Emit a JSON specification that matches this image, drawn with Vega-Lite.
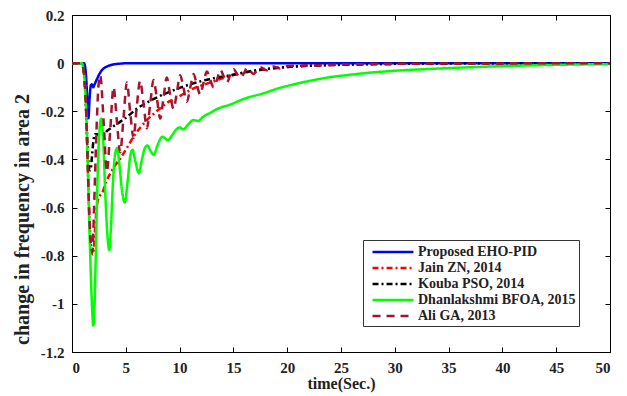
{
  "$schema": "https://vega.github.io/schema/vega-lite/v6.json",
  "width": 538,
  "height": 337,
  "autosize": "none",
  "padding": {"left": 72, "top": 15, "right": 17, "bottom": 44},
  "background": "white",
  "config": {
    "view": {"stroke": null},
    "axis": {"grid": false, "domainColor": "black", "tickColor": "black", "labelColor": "#222", "titleColor": "#222", "labelFont": "Liberation Serif", "titleFont": "Liberation Serif", "labelFontWeight": "bold", "titleFontWeight": "bold", "labelFontSize": 15, "titleFontSize": 16}
  },
  "data": {"values": [
    {"s":"Proposed EHO-PID","t":0,"v":0},{"s":"Proposed EHO-PID","t":1.1,"v":0},{"s":"Proposed EHO-PID","t":1.2,"v":-0.01},{"s":"Proposed EHO-PID","t":1.33,"v":-0.07},{"s":"Proposed EHO-PID","t":1.45,"v":-0.18},{"s":"Proposed EHO-PID","t":1.53,"v":-0.229},{"s":"Proposed EHO-PID","t":1.63,"v":-0.15},{"s":"Proposed EHO-PID","t":1.75,"v":-0.092},{"s":"Proposed EHO-PID","t":1.85,"v":-0.088},{"s":"Proposed EHO-PID","t":1.97,"v":-0.1},{"s":"Proposed EHO-PID","t":2.1,"v":-0.088},{"s":"Proposed EHO-PID","t":2.3,"v":-0.068},{"s":"Proposed EHO-PID","t":2.55,"v":-0.045},{"s":"Proposed EHO-PID","t":2.8,"v":-0.028},{"s":"Proposed EHO-PID","t":3.2,"v":-0.015},{"s":"Proposed EHO-PID","t":3.7,"v":-0.007},{"s":"Proposed EHO-PID","t":4.5,"v":-0.002},{"s":"Proposed EHO-PID","t":5.5,"v":0},{"s":"Proposed EHO-PID","t":50,"v":0},

    {"s":"Jain ZN, 2014","t":0,"v":0},{"s":"Jain ZN, 2014","t":0.9,"v":0},{"s":"Jain ZN, 2014","t":1.0,"v":-0.01},{"s":"Jain ZN, 2014","t":1.15,"v":-0.06},{"s":"Jain ZN, 2014","t":1.3,"v":-0.18},{"s":"Jain ZN, 2014","t":1.45,"v":-0.4},{"s":"Jain ZN, 2014","t":1.6,"v":-0.62},{"s":"Jain ZN, 2014","t":1.75,"v":-0.75},{"s":"Jain ZN, 2014","t":1.87,"v":-0.79},{"s":"Jain ZN, 2014","t":1.95,"v":-0.795},{"s":"Jain ZN, 2014","t":2.05,"v":-0.76},{"s":"Jain ZN, 2014","t":2.2,"v":-0.65},{"s":"Jain ZN, 2014","t":2.4,"v":-0.57},{"s":"Jain ZN, 2014","t":2.6,"v":-0.55},{"s":"Jain ZN, 2014","t":2.8,"v":-0.54},{"s":"Jain ZN, 2014","t":3.2,"v":-0.49},{"s":"Jain ZN, 2014","t":3.6,"v":-0.455},{"s":"Jain ZN, 2014","t":4.0,"v":-0.425},{"s":"Jain ZN, 2014","t":4.5,"v":-0.395},{"s":"Jain ZN, 2014","t":5.2,"v":-0.345},{"s":"Jain ZN, 2014","t":5.8,"v":-0.3},{"s":"Jain ZN, 2014","t":6.4,"v":-0.265},{"s":"Jain ZN, 2014","t":7.0,"v":-0.235},{"s":"Jain ZN, 2014","t":7.6,"v":-0.21},{"s":"Jain ZN, 2014","t":8.2,"v":-0.187},{"s":"Jain ZN, 2014","t":9.0,"v":-0.16},{"s":"Jain ZN, 2014","t":9.5,"v":-0.15},{"s":"Jain ZN, 2014","t":10.4,"v":-0.127},{"s":"Jain ZN, 2014","t":11.3,"v":-0.105},{"s":"Jain ZN, 2014","t":12.2,"v":-0.09},{"s":"Jain ZN, 2014","t":13.2,"v":-0.075},{"s":"Jain ZN, 2014","t":14.3,"v":-0.058},{"s":"Jain ZN, 2014","t":15.4,"v":-0.045},{"s":"Jain ZN, 2014","t":17,"v":-0.032},{"s":"Jain ZN, 2014","t":19,"v":-0.02},{"s":"Jain ZN, 2014","t":21,"v":-0.013},{"s":"Jain ZN, 2014","t":23,"v":-0.009},{"s":"Jain ZN, 2014","t":26,"v":-0.005},{"s":"Jain ZN, 2014","t":30,"v":-0.003},{"s":"Jain ZN, 2014","t":35,"v":-0.001},{"s":"Jain ZN, 2014","t":50,"v":0},

    {"s":"Kouba PSO, 2014","t":0,"v":0},{"s":"Kouba PSO, 2014","t":0.9,"v":0},{"s":"Kouba PSO, 2014","t":1.0,"v":-0.01},{"s":"Kouba PSO, 2014","t":1.15,"v":-0.06},{"s":"Kouba PSO, 2014","t":1.3,"v":-0.18},{"s":"Kouba PSO, 2014","t":1.45,"v":-0.36},{"s":"Kouba PSO, 2014","t":1.6,"v":-0.44},{"s":"Kouba PSO, 2014","t":1.72,"v":-0.445},{"s":"Kouba PSO, 2014","t":1.85,"v":-0.39},{"s":"Kouba PSO, 2014","t":2.0,"v":-0.32},{"s":"Kouba PSO, 2014","t":2.15,"v":-0.295},{"s":"Kouba PSO, 2014","t":2.35,"v":-0.295},{"s":"Kouba PSO, 2014","t":2.6,"v":-0.305},{"s":"Kouba PSO, 2014","t":2.9,"v":-0.298},{"s":"Kouba PSO, 2014","t":3.3,"v":-0.28},{"s":"Kouba PSO, 2014","t":3.6,"v":-0.27},{"s":"Kouba PSO, 2014","t":4.5,"v":-0.243},{"s":"Kouba PSO, 2014","t":5.2,"v":-0.22},{"s":"Kouba PSO, 2014","t":6.0,"v":-0.19},{"s":"Kouba PSO, 2014","t":7.0,"v":-0.163},{"s":"Kouba PSO, 2014","t":8.0,"v":-0.14},{"s":"Kouba PSO, 2014","t":9.3,"v":-0.115},{"s":"Kouba PSO, 2014","t":10.5,"v":-0.095},{"s":"Kouba PSO, 2014","t":11.9,"v":-0.076},{"s":"Kouba PSO, 2014","t":13,"v":-0.064},{"s":"Kouba PSO, 2014","t":14.4,"v":-0.053},{"s":"Kouba PSO, 2014","t":15.6,"v":-0.042},{"s":"Kouba PSO, 2014","t":17,"v":-0.03},{"s":"Kouba PSO, 2014","t":18.5,"v":-0.022},{"s":"Kouba PSO, 2014","t":20,"v":-0.016},{"s":"Kouba PSO, 2014","t":22,"v":-0.011},{"s":"Kouba PSO, 2014","t":25,"v":-0.007},{"s":"Kouba PSO, 2014","t":30,"v":-0.003},{"s":"Kouba PSO, 2014","t":35,"v":-0.001},{"s":"Kouba PSO, 2014","t":50,"v":0},

    {"s":"Dhanlakshmi BFOA, 2015","t":0,"v":0},{"s":"Dhanlakshmi BFOA, 2015","t":0.9,"v":0},{"s":"Dhanlakshmi BFOA, 2015","t":1.0,"v":-0.01},{"s":"Dhanlakshmi BFOA, 2015","t":1.15,"v":-0.06},{"s":"Dhanlakshmi BFOA, 2015","t":1.3,"v":-0.18},{"s":"Dhanlakshmi BFOA, 2015","t":1.45,"v":-0.4},{"s":"Dhanlakshmi BFOA, 2015","t":1.6,"v":-0.66},{"s":"Dhanlakshmi BFOA, 2015","t":1.75,"v":-0.88},{"s":"Dhanlakshmi BFOA, 2015","t":1.87,"v":-1.02},{"s":"Dhanlakshmi BFOA, 2015","t":1.97,"v":-1.09},{"s":"Dhanlakshmi BFOA, 2015","t":2.07,"v":-1.04},{"s":"Dhanlakshmi BFOA, 2015","t":2.2,"v":-0.82},{"s":"Dhanlakshmi BFOA, 2015","t":2.35,"v":-0.52},{"s":"Dhanlakshmi BFOA, 2015","t":2.5,"v":-0.32},{"s":"Dhanlakshmi BFOA, 2015","t":2.71,"v":-0.23},{"s":"Dhanlakshmi BFOA, 2015","t":2.9,"v":-0.32},{"s":"Dhanlakshmi BFOA, 2015","t":3.1,"v":-0.55},{"s":"Dhanlakshmi BFOA, 2015","t":3.3,"v":-0.72},{"s":"Dhanlakshmi BFOA, 2015","t":3.46,"v":-0.776},{"s":"Dhanlakshmi BFOA, 2015","t":3.62,"v":-0.68},{"s":"Dhanlakshmi BFOA, 2015","t":3.8,"v":-0.5},{"s":"Dhanlakshmi BFOA, 2015","t":4.0,"v":-0.38},{"s":"Dhanlakshmi BFOA, 2015","t":4.2,"v":-0.353},{"s":"Dhanlakshmi BFOA, 2015","t":4.4,"v":-0.42},{"s":"Dhanlakshmi BFOA, 2015","t":4.65,"v":-0.53},{"s":"Dhanlakshmi BFOA, 2015","t":4.9,"v":-0.579},{"s":"Dhanlakshmi BFOA, 2015","t":5.15,"v":-0.5},{"s":"Dhanlakshmi BFOA, 2015","t":5.4,"v":-0.39},{"s":"Dhanlakshmi BFOA, 2015","t":5.62,"v":-0.36},{"s":"Dhanlakshmi BFOA, 2015","t":5.9,"v":-0.41},{"s":"Dhanlakshmi BFOA, 2015","t":6.21,"v":-0.457},{"s":"Dhanlakshmi BFOA, 2015","t":6.5,"v":-0.4},{"s":"Dhanlakshmi BFOA, 2015","t":6.8,"v":-0.35},{"s":"Dhanlakshmi BFOA, 2015","t":7.02,"v":-0.342},{"s":"Dhanlakshmi BFOA, 2015","t":7.3,"v":-0.365},{"s":"Dhanlakshmi BFOA, 2015","t":7.6,"v":-0.381},{"s":"Dhanlakshmi BFOA, 2015","t":7.95,"v":-0.34},{"s":"Dhanlakshmi BFOA, 2015","t":8.4,"v":-0.306},{"s":"Dhanlakshmi BFOA, 2015","t":8.9,"v":-0.32},{"s":"Dhanlakshmi BFOA, 2015","t":9.3,"v":-0.3},{"s":"Dhanlakshmi BFOA, 2015","t":9.7,"v":-0.275},{"s":"Dhanlakshmi BFOA, 2015","t":10.0,"v":-0.267},{"s":"Dhanlakshmi BFOA, 2015","t":10.35,"v":-0.275},{"s":"Dhanlakshmi BFOA, 2015","t":10.8,"v":-0.255},{"s":"Dhanlakshmi BFOA, 2015","t":11.3,"v":-0.236},{"s":"Dhanlakshmi BFOA, 2015","t":11.7,"v":-0.24},{"s":"Dhanlakshmi BFOA, 2015","t":12.2,"v":-0.222},{"s":"Dhanlakshmi BFOA, 2015","t":12.9,"v":-0.205},{"s":"Dhanlakshmi BFOA, 2015","t":13.5,"v":-0.19},{"s":"Dhanlakshmi BFOA, 2015","t":14.7,"v":-0.172},{"s":"Dhanlakshmi BFOA, 2015","t":16,"v":-0.148},{"s":"Dhanlakshmi BFOA, 2015","t":17.8,"v":-0.125},{"s":"Dhanlakshmi BFOA, 2015","t":19.3,"v":-0.103},{"s":"Dhanlakshmi BFOA, 2015","t":20.9,"v":-0.085},{"s":"Dhanlakshmi BFOA, 2015","t":22.5,"v":-0.07},{"s":"Dhanlakshmi BFOA, 2015","t":24,"v":-0.058},{"s":"Dhanlakshmi BFOA, 2015","t":25.5,"v":-0.05},{"s":"Dhanlakshmi BFOA, 2015","t":27.1,"v":-0.042},{"s":"Dhanlakshmi BFOA, 2015","t":30.2,"v":-0.031},{"s":"Dhanlakshmi BFOA, 2015","t":33.3,"v":-0.024},{"s":"Dhanlakshmi BFOA, 2015","t":37,"v":-0.017},{"s":"Dhanlakshmi BFOA, 2015","t":41.2,"v":-0.011},{"s":"Dhanlakshmi BFOA, 2015","t":45,"v":-0.007},{"s":"Dhanlakshmi BFOA, 2015","t":50,"v":-0.004},

    {"s":"Ali GA, 2013","t":0,"v":0},{"s":"Ali GA, 2013","t":0.9,"v":0},{"s":"Ali GA, 2013","t":1.0,"v":-0.01},{"s":"Ali GA, 2013","t":1.15,"v":-0.06},{"s":"Ali GA, 2013","t":1.3,"v":-0.18},{"s":"Ali GA, 2013","t":1.45,"v":-0.4},{"s":"Ali GA, 2013","t":1.6,"v":-0.62},{"s":"Ali GA, 2013","t":1.75,"v":-0.75},{"s":"Ali GA, 2013","t":1.9,"v":-0.785},{"s":"Ali GA, 2013","t":2.05,"v":-0.6},{"s":"Ali GA, 2013","t":2.3,"v":-0.25},{"s":"Ali GA, 2013","t":2.45,"v":-0.1},{"s":"Ali GA, 2013","t":2.62,"v":-0.05},{"s":"Ali GA, 2013","t":2.95,"v":-0.25},{"s":"Ali GA, 2013","t":3.24,"v":-0.45},{"s":"Ali GA, 2013","t":3.55,"v":-0.28},{"s":"Ali GA, 2013","t":3.86,"v":-0.1},{"s":"Ali GA, 2013","t":4.17,"v":-0.24},{"s":"Ali GA, 2013","t":4.48,"v":-0.37},{"s":"Ali GA, 2013","t":4.8,"v":-0.22},{"s":"Ali GA, 2013","t":5.1,"v":-0.08},{"s":"Ali GA, 2013","t":5.4,"v":-0.2},{"s":"Ali GA, 2013","t":5.72,"v":-0.31},{"s":"Ali GA, 2013","t":6.0,"v":-0.19},{"s":"Ali GA, 2013","t":6.33,"v":-0.074},{"s":"Ali GA, 2013","t":6.65,"v":-0.17},{"s":"Ali GA, 2013","t":6.96,"v":-0.27},{"s":"Ali GA, 2013","t":7.27,"v":-0.17},{"s":"Ali GA, 2013","t":7.57,"v":-0.07},{"s":"Ali GA, 2013","t":7.9,"v":-0.15},{"s":"Ali GA, 2013","t":8.2,"v":-0.23},{"s":"Ali GA, 2013","t":8.5,"v":-0.145},{"s":"Ali GA, 2013","t":8.81,"v":-0.06},{"s":"Ali GA, 2013","t":9.1,"v":-0.125},{"s":"Ali GA, 2013","t":9.44,"v":-0.19},{"s":"Ali GA, 2013","t":9.75,"v":-0.12},{"s":"Ali GA, 2013","t":10.05,"v":-0.05},{"s":"Ali GA, 2013","t":10.37,"v":-0.105},{"s":"Ali GA, 2013","t":10.68,"v":-0.16},{"s":"Ali GA, 2013","t":11.0,"v":-0.1},{"s":"Ali GA, 2013","t":11.3,"v":-0.045},{"s":"Ali GA, 2013","t":11.6,"v":-0.09},{"s":"Ali GA, 2013","t":11.92,"v":-0.13},{"s":"Ali GA, 2013","t":12.23,"v":-0.08},{"s":"Ali GA, 2013","t":12.54,"v":-0.035},{"s":"Ali GA, 2013","t":12.85,"v":-0.07},{"s":"Ali GA, 2013","t":13.16,"v":-0.1},{"s":"Ali GA, 2013","t":13.5,"v":-0.065},{"s":"Ali GA, 2013","t":13.78,"v":-0.028},{"s":"Ali GA, 2013","t":14.1,"v":-0.055},{"s":"Ali GA, 2013","t":14.4,"v":-0.08},{"s":"Ali GA, 2013","t":14.7,"v":-0.05},{"s":"Ali GA, 2013","t":15.02,"v":-0.025},{"s":"Ali GA, 2013","t":15.33,"v":-0.045},{"s":"Ali GA, 2013","t":15.64,"v":-0.06},{"s":"Ali GA, 2013","t":16.0,"v":-0.04},{"s":"Ali GA, 2013","t":16.26,"v":-0.02},{"s":"Ali GA, 2013","t":16.6,"v":-0.035},{"s":"Ali GA, 2013","t":16.88,"v":-0.045},{"s":"Ali GA, 2013","t":17.2,"v":-0.03},{"s":"Ali GA, 2013","t":17.5,"v":-0.017},{"s":"Ali GA, 2013","t":18.1,"v":-0.03},{"s":"Ali GA, 2013","t":18.7,"v":-0.014},{"s":"Ali GA, 2013","t":19.3,"v":-0.022},{"s":"Ali GA, 2013","t":20,"v":-0.012},{"s":"Ali GA, 2013","t":22,"v":-0.01},{"s":"Ali GA, 2013","t":25,"v":-0.006},{"s":"Ali GA, 2013","t":30,"v":-0.003},{"s":"Ali GA, 2013","t":40,"v":-0.001},{"s":"Ali GA, 2013","t":50,"v":0}
  ]},
  "layer": [
    {
      "mark": {"type": "line", "interpolate": "monotone", "clip": true},
      "encoding": {
        "x": {"field": "t", "type": "quantitative", "scale": {"domain": [0, 50], "nice": false, "zero": false},
          "axis": {"orient": "bottom", "title": "time(Sec.)", "values": [0,5,10,15,20,25,30,35,40,45,50], "labelExpr": "toString(datum.value)", "tickSize": -5, "labelPadding": 13, "titlePadding": 0}},
        "y": {"field": "v", "type": "quantitative", "scale": {"domain": [-1.2, 0.2], "nice": false, "zero": false},
          "axis": {"orient": "left", "title": "change in frequency in area 2", "values": [-1.2,-1,-0.8,-0.6,-0.4,-0.2,0,0.2], "labelExpr": "toString(datum.value)", "tickSize": -5, "labelPadding": 13, "titleFontSize": 20, "titleX": -50, "titleY": 204, "titleAlign": "center", "titleBaseline": "middle"}},
        "color": {"field": "s", "type": "nominal",
          "scale": {"domain": ["Proposed EHO-PID","Jain ZN, 2014","Kouba PSO, 2014","Dhanlakshmi BFOA, 2015","Ali GA, 2013"], "range": ["#0000ff","#ff0000","#000000","#00ff00","#a2142f"]},
          "legend": {"orient": "none", "legendX": 291, "legendY": 225, "title": null, "fillColor": "white", "strokeColor": "#333", "padding": 3, "symbolType": "M-2.73,0H2.73", "symbolSize": 225, "symbolStrokeWidth": 2.5, "symbolOffset": 18, "rowPadding": 0, "labelFont": "Liberation Serif", "labelFontWeight": "bold", "labelFontSize": 14, "labelColor": "#222", "labelLimit": 300, "labelOffset": 16}},
        "strokeDash": {"field": "s", "type": "nominal",
          "scale": {"domain": ["Proposed EHO-PID","Jain ZN, 2014","Kouba PSO, 2014","Dhanlakshmi BFOA, 2015","Ali GA, 2013"], "range": [[1,0],[6,3,2,3],[6,3,2,3],[1,0],[8,6]]}},
        "strokeWidth": {"field": "s", "type": "nominal",
          "scale": {"domain": ["Proposed EHO-PID","Jain ZN, 2014","Kouba PSO, 2014","Dhanlakshmi BFOA, 2015","Ali GA, 2013"], "range": [2.5,2.5,2.5,3,3.5]}}
      }
    },
    {
      "mark": {"type": "line", "opacity": 0},
      "encoding": {
        "x": {"field": "t", "type": "quantitative", "axis": {"orient": "top", "title": null, "labels": false, "values": [0,5,10,15,20,25,30,35,40,45,50], "tickSize": -5}},
        "y": {"field": "v", "type": "quantitative", "axis": {"orient": "right", "title": null, "labels": false, "values": [-1.2,-1,-0.8,-0.6,-0.4,-0.2,0,0.2], "tickSize": -5}},
        "detail": {"field": "s"}
      }
    }
  ],
  "resolve": {"axis": {"x": "independent", "y": "independent"}}
}
